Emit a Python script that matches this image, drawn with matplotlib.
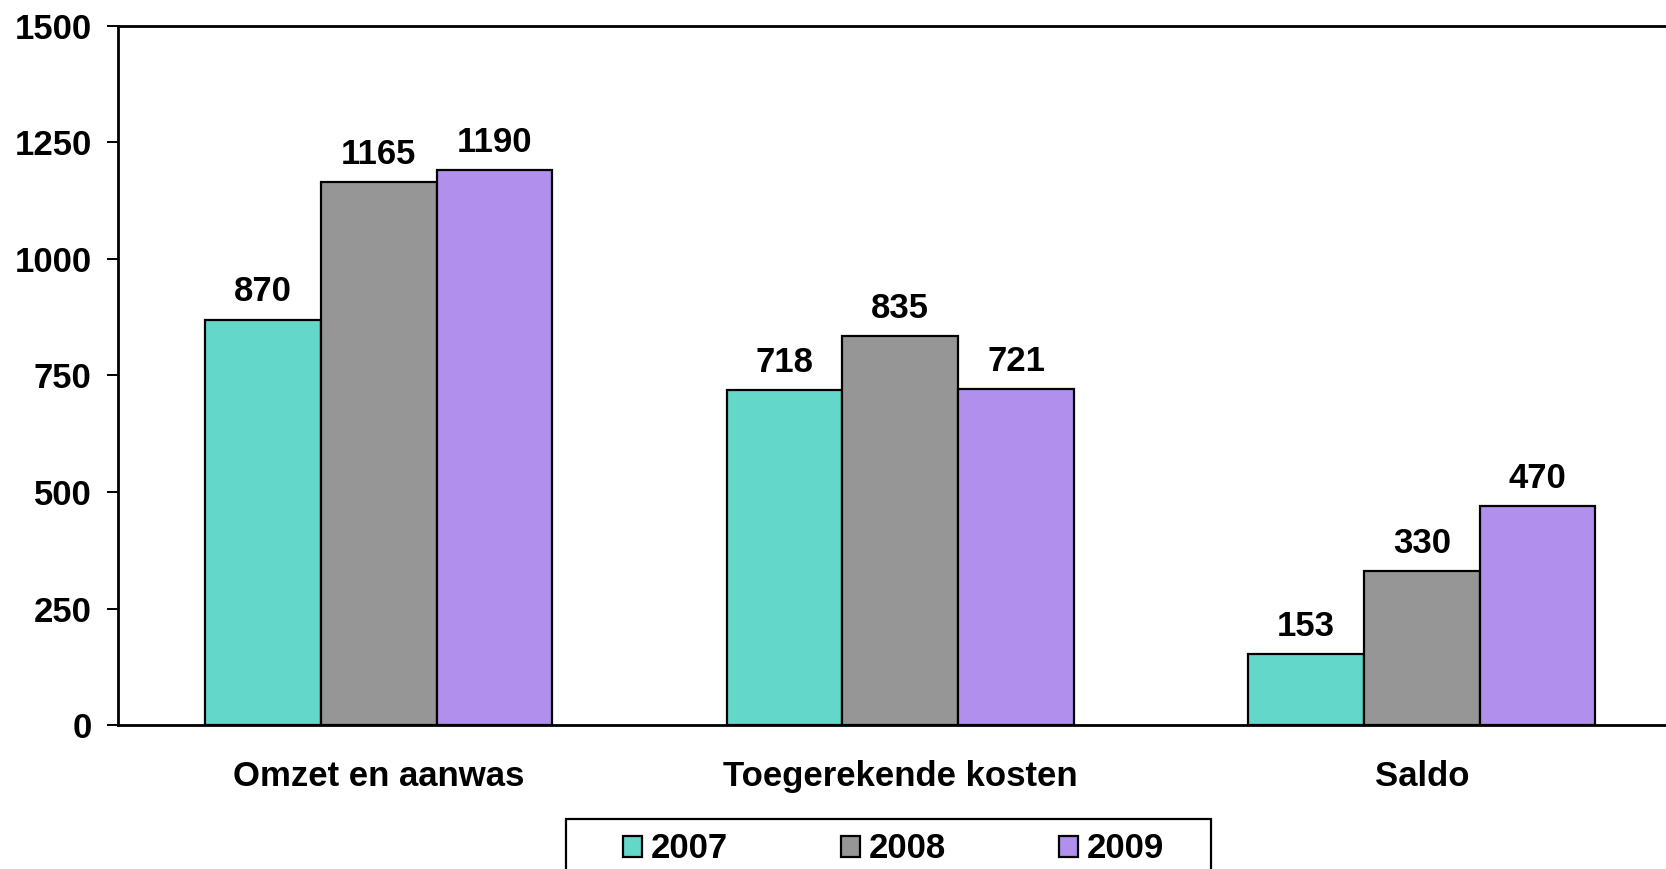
import numpy as np
import matplotlib
matplotlib.use("Agg")
import matplotlib.pyplot as plt
from matplotlib.patches import Rectangle

categories = ["Omzet en aanwas", "Toegerekende kosten", "Saldo"]
years = ["2007", "2008", "2009"]
values_2007 = [870, 718, 153]
values_2008 = [1165, 835, 330]
values_2009 = [1190, 721, 470]
colors = ["#62D7CA", "#969696", "#B18FEC"]

plt.rcParams['font.family'] = ['Liberation Sans', 'DejaVu Sans']
plt.rcParams['font.weight'] = 'bold'
fs = 25

W, H = 1666, 869
fig = plt.figure(figsize=(W / 100, H / 100), dpi=100)
# axes run off the right edge of the picture, like the original
ax = fig.add_axes([118 / W, 1 - 725 / H, 3 * 521.5 / W, (725 - 26) / H])

x = np.arange(len(categories))
bw = 0.222
series = [values_2007, values_2008, values_2009]
for i, (vals, col, yr) in enumerate(zip(series, colors, years)):
    bars = ax.bar(x + (i - 1) * bw, vals, bw, color=col, edgecolor='black',
                  linewidth=1.6, label=yr)
    ax.bar_label(bars, labels=[str(v) for v in vals], padding=8,
                 fontsize=fs, fontweight='bold')

ax.set_xlim(-0.5, 2.5)
ax.set_ylim(0, 1500)
ax.set_yticks([0, 250, 500, 750, 1000, 1250, 1500])
ax.set_xticks(x)
ax.set_xticklabels(categories, fontsize=fs, fontweight='bold')
ax.tick_params(axis='y', length=8, width=1.4, pad=11, labelsize=fs)
ax.tick_params(axis='x', length=0, pad=25)
for s in ['left', 'top', 'bottom']:
    ax.spines[s].set_linewidth(2)
ax.spines['right'].set_visible(False)

# legend frame drawn by hand (it runs off the bottom of the picture)
fig.patches.append(Rectangle((566 / W, -0.05), (1211 - 566) / W, 0.05 + 1 - 819 / H,
                             transform=fig.transFigure, fill=False,
                             edgecolor='black', linewidth=1.6))
handles, labels = ax.get_legend_handles_labels()
fig.legend(handles, labels, loc='center left', ncol=3,
           bbox_to_anchor=(623 / W, 1 - 849 / H), frameon=False,
           fontsize=fs, handlelength=0.55, handleheight=0.55,
           handletextpad=0.25, columnspacing=3.25, borderpad=0,
           borderaxespad=0)

fig.savefig("out.png", dpi=100)
